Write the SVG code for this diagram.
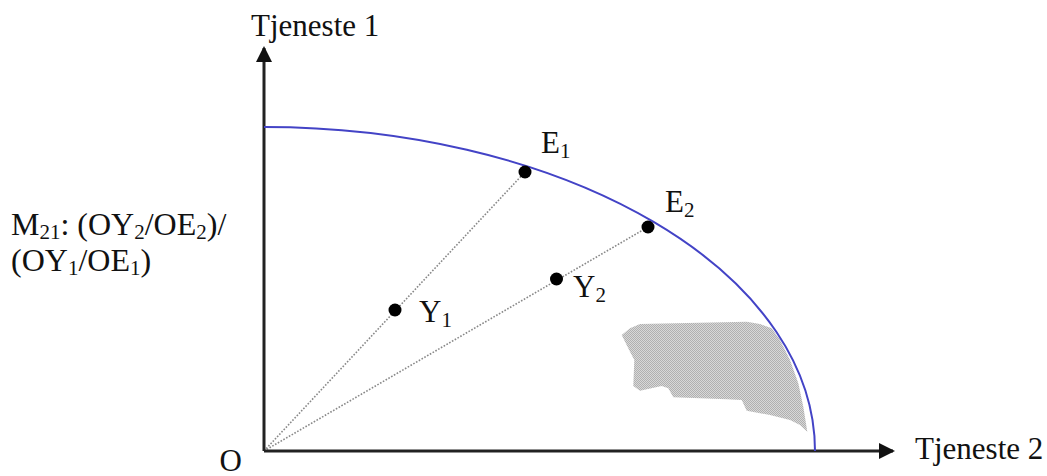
<svg xmlns="http://www.w3.org/2000/svg" width="1047" height="476" viewBox="0 0 1047 476">
<style>
.t{font-family:"Liberation Serif","Times New Roman",serif;font-size:31px;fill:#111}
.m{font-size:32px}
.s{font-size:21px}
.ax{stroke:#222;stroke-width:3;fill:none}
.dot{stroke:#888;stroke-width:1.6;stroke-dasharray:1.6 1.6;fill:none}
.pt{fill:#000}
</style>
<defs>
<marker id="ah" viewBox="0 0 16 16" refX="14" refY="8" markerWidth="16" markerHeight="16" markerUnits="userSpaceOnUse" orient="auto">
<path d="M0,0 L16,8 L0,16 Z" fill="#111"/>
</marker>
<pattern id="chk" width="2" height="2" patternUnits="userSpaceOnUse">
<rect width="2" height="2" fill="#d8d8d8"/>
<rect width="1" height="1" fill="#b0b0b0"/>
<rect x="1" y="1" width="1" height="1" fill="#b0b0b0"/>
</pattern>
</defs>
<g id="shade">
<path d="M621.7,335 L630,328.3 L640,324 L746.7,321.7 L760,324 L771.7,328.3 L780,340 L790,360 L798.3,383.3 L803.3,406.7 L807.3,431.7 L800,425 L790,420 L770,415 L746.7,410.7 L741.7,400 L726.7,399.3 L673.3,397.3 L668.3,388.3 L661.7,386 L640,390.7 L633.3,386 L634.3,360 L630,351.7 Z" fill="url(#chk)"/>
</g>
<g id="connectors">
<line class="dot" x1="264" y1="451" x2="525" y2="172"/>
<line class="dot" x1="264" y1="451" x2="648" y2="227"/>
<line class="ax" x1="264" y1="451" x2="264" y2="48" marker-end="url(#ah)"/>
<line class="ax" x1="264" y1="451" x2="893" y2="451" marker-end="url(#ah)"/>
</g>
<g id="frontier">
<path d="M264,127 A551,324 0 0 1 815,451" fill="none" stroke="#4343c6" stroke-width="2"/>
</g>
<g id="E1"><circle class="pt" cx="525" cy="172" r="6.5"/><text class="t" x="541" y="153">E<tspan class="s" dy="5">1</tspan></text></g>
<g id="E2"><circle class="pt" cx="648" cy="227" r="6.5"/><text class="t" x="665" y="212">E<tspan class="s" dy="5">2</tspan></text></g>
<g id="Y1"><circle class="pt" cx="395" cy="310" r="6.5"/><text class="t" x="419" y="322">Y<tspan class="s" dy="5">1</tspan></text></g>
<g id="Y2"><circle class="pt" cx="556.5" cy="279" r="6.5"/><text class="t" x="573" y="297">Y<tspan class="s" dy="5">2</tspan></text></g>
<g id="labels">
<text class="t" x="251" y="36">Tjeneste 1</text>
<text class="t" x="915" y="459">Tjeneste 2</text>
<text class="t" x="242" y="471" text-anchor="end">O</text>
<text class="t m" x="11" y="235">M<tspan class="s" dy="4">21</tspan><tspan dy="-4">: (OY</tspan><tspan class="s" dy="4">2</tspan><tspan dy="-4">/OE</tspan><tspan class="s" dy="4">2</tspan><tspan dy="-4">)/</tspan></text>
<text class="t m" x="11" y="271">(OY<tspan class="s" dy="4">1</tspan><tspan dy="-4">/OE</tspan><tspan class="s" dy="4">1</tspan><tspan dy="-4">)</tspan></text>
</g>
</svg>
